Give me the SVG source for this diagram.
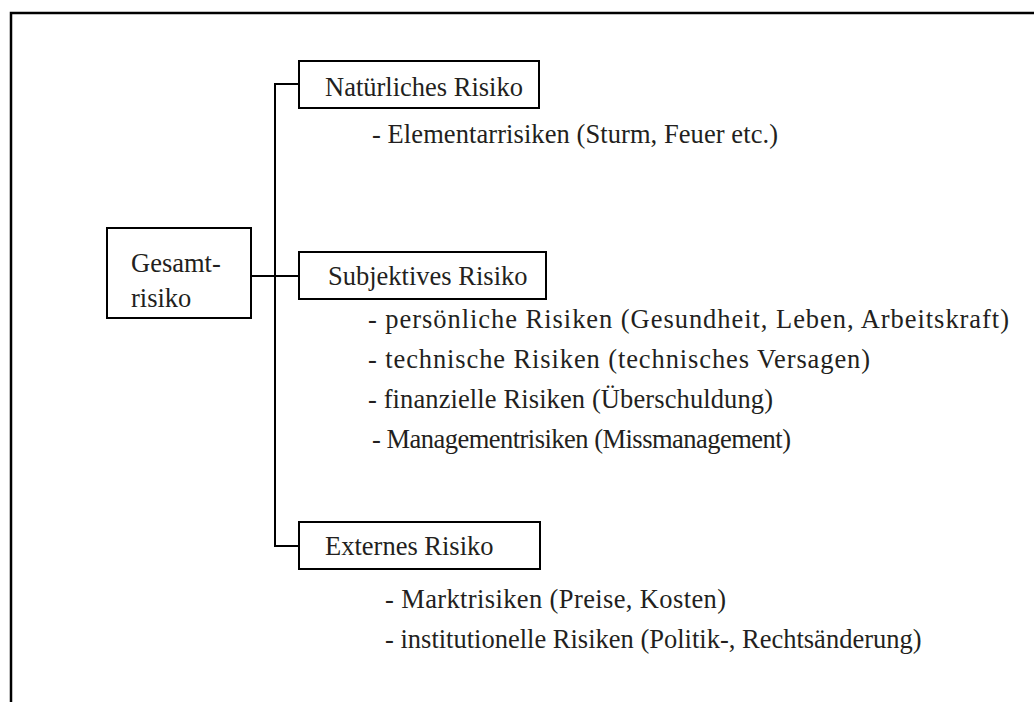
<svg xmlns="http://www.w3.org/2000/svg" width="1034" height="702" viewBox="0 0 1034 702">
<style>
.t{font-family:"Liberation Serif","Times New Roman",serif;font-size:26.5px;fill:#231f20}
.b{fill:#fff;stroke:#000;stroke-width:2}
.c{fill:none;stroke:#000;stroke-width:2}
</style>
<rect width="1034" height="702" fill="#fff"/>
<path d="M11,703 V13 H1034" fill="none" stroke="#000" stroke-width="2.5"/>
<g id="connectors">
<path class="c" d="M299,84 H275 V546 H299"/>
<path class="c" d="M251,276 H299"/>
</g>
<g id="gesamt">
<rect class="b" x="107" y="228" width="144" height="90"/>
<text class="t" x="131" y="272">Gesamt-</text>
<text class="t" x="131" y="307">risiko</text>
</g>
<g id="natuerlich">
<rect class="b" x="299" y="61" width="240" height="47"/>
<text class="t" x="325" y="96">Natürliches Risiko</text>
<text class="t" x="372" y="143" textLength="406" lengthAdjust="spacing">- Elementarrisiken (Sturm, Feuer etc.)</text>
</g>
<g id="subjektiv">
<rect class="b" x="299" y="252" width="247" height="47"/>
<text class="t" x="328" y="285">Subjektives Risiko</text>
<text class="t" x="368" y="328" textLength="641" lengthAdjust="spacing">- persönliche Risiken (Gesundheit, Leben, Arbeitskraft)</text>
<text class="t" x="368" y="368" textLength="502" lengthAdjust="spacing">- technische Risiken (technisches Versagen)</text>
<text class="t" x="368" y="408" textLength="405" lengthAdjust="spacing">- finanzielle Risiken (Überschuldung)</text>
<text class="t" x="372" y="448" textLength="419" lengthAdjust="spacing">- Managementrisiken (Missmanagement)</text>
</g>
<g id="extern">
<rect class="b" x="299" y="522" width="241" height="47"/>
<text class="t" x="325" y="555">Externes Risiko</text>
<text class="t" x="385" y="608" textLength="341" lengthAdjust="spacing">- Marktrisiken (Preise, Kosten)</text>
<text class="t" x="385" y="648">- institutionelle Risiken (Politik-, Rechtsänderung)</text>
</g>
</svg>
